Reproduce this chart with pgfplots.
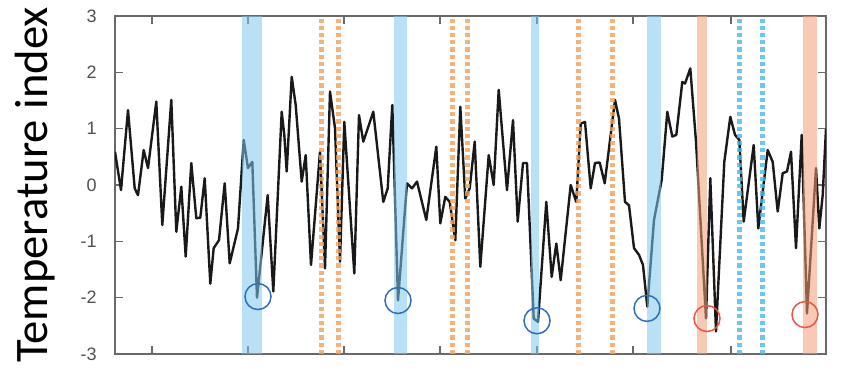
\documentclass[border=0pt]{standalone}
\usepackage{pgfplots}
\pgfplotsset{compat=1.18}
\usepackage{fontspec}
\setmainfont{Liberation Sans}
\newfontfamily\calib{Carlito}
\definecolor{axisgray}{RGB}{105,105,105}
\definecolor{labelgray}{RGB}{80,80,80}
\definecolor{linecol}{RGB}{25,25,25}
\definecolor{bandblue}{RGB}{128,200,237}
\definecolor{bandred}{RGB}{242,158,122}
\definecolor{dotorange}{RGB}{243,160,90}
\definecolor{dotblue}{RGB}{70,185,235}
\definecolor{circblue}{RGB}{45,110,195}
\definecolor{circred}{RGB}{235,85,65}
\begin{document}
\begin{tikzpicture}
\useasboundingbox (-57.5pt,-11.5pt) rectangle (373.5pt,177pt);
\begin{axis}[
  scale only axis, width=355.5pt, height=169pt,
  xmin=115, xmax=826, ymin=-3, ymax=3,
  xtick={152,248,344,440,537,633,731}, xticklabels={},
  ytick={-3,-2,-1,0,1,2,3}, yticklabels={-3,-2,-1,0,1,2,3},
  tick align=inside, major tick length=4pt,
  tick style={color=axisgray, line width=0.6pt},
  axis line style={color=axisgray, line width=0.6pt},
  yticklabel style={font=\fontsize{9}{10}\selectfont, text=labelgray, inner sep=0pt, xshift=-9pt},
  ylabel={Temperature index},
  ylabel style={font=\calib\fontsize{23.3}{26}\selectfont, at={(axis description cs:-0.0956,0.5)}, anchor=base, inner sep=0pt},
]
\addplot[color=linecol, line width=1.2pt, line join=round] coordinates {
(115,0.59) (121,-0.09) (128,1.33) (134.7,-0.06) (138,-0.18) (143.7,0.62) (148,0.30)
(156.3,1.48) (162.3,-0.71) (171.3,1.51) (176.3,-0.83) (181.3,-0.03) (185.7,-1.27)
(191.3,0.39) (196.3,-0.59) (200.3,-0.58) (204.7,0.12) (210.3,-1.75) (213.7,-1.12)
(219,-0.98) (224.7,0.03) (229.7,-1.39) (238,-0.77) (243.7,0.80) (248,0.30) (252.3,0.41)
(257,-2.0) (267.7,-0.18) (273.3,-1.89) (281.7,1.30) (284.3,0.89) (286.7,0.24)
(291.7,1.92) (295.7,1.42) (301.7,0.06) (305.7,0.53) (311,-1.42) (320,0.59) (325,-1.48)
(330,1.66) (335,1.01) (340,-1.36) (344.3,1.12) (354.3,-1.57) (359,1.24) (363.3,0.77)
(373.3,1.30) (383.3,-0.30) (387.7,-0.06) (392.3,1.42) (398,-2.05) (407,0.03)
(412,-0.06) (417,0.06) (426.3,-0.62) (436.3,0.68) (440.3,-0.68) (445.3,-0.21)
(449.7,-0.30) (455.3,-0.98) (460.3,1.39) (465.3,-0.24) (469.7,-0.06) (474.7,0.77)
(480.3,-1.45) (488.7,0.53) (493.7,0.0) (498.7,1.69) (507,-0.09) (513,1.15)
(517.7,-0.65) (523,0.39) (527,0.39) (533.7,-2.37) (538,-2.43) (546.3,-0.30)
(551.7,-1.63) (556.3,-1.04) (560.7,-1.69) (570.7,0.0) (574,-0.18) (576.3,-0.30)
(580.7,1.09) (585,1.12) (590.7,-0.06) (595,0.39) (599.7,0.40) (604.7,0.03) (609,0.65)
(615,1.51) (619,1.18) (625,-0.30) (629,-0.36) (634,-1.12) (639,-1.24) (643,-1.42)
(647.3,-2.16) (654,-0.62) (661.7,0.09) (667.3,1.30) (672.3,0.86) (676.3,0.89)
(682.3,1.83) (685,1.80) (690.3,2.07) (696,0.77) (706,-2.37) (710.3,0.12) (716,-2.60)
(724.3,0.41) (730.3,1.21) (735,0.89) (739.3,0.80) (743.7,-0.65) (753.7,0.71)
(758.3,-0.77) (767.7,0.62) (772.7,0.41) (777.7,-0.47) (782.7,0.21) (787,0.24)
(791,0.59) (796,-1.12) (801.7,0.89) (807,-2.28) (816,0.30) (819.3,-0.77) (822.7,-0.18)
(826,1.0)
};
% shaded bands
\addplot[color=bandblue, opacity=0.55, line width=10pt] coordinates {(252,-3) (252,3)};
\addplot[color=bandblue, opacity=0.55, line width=6.5pt] coordinates {(400.5,-3) (400.5,3)};
\addplot[color=bandblue, opacity=0.55, line width=4pt] coordinates {(535,-3) (535,3)};
\addplot[color=bandblue, opacity=0.55, line width=7pt] coordinates {(654,-3) (654,3)};
\addplot[color=bandred, opacity=0.55, line width=5pt] coordinates {(702,-3) (702,3)};
\addplot[color=bandred, opacity=0.55, line width=7pt] coordinates {(810,-3) (810,3)};
% dotted lines
\foreach \xx in {321.5,338,452.5,467,578.5,612} {
  \edef\temp{\noexpand\addplot[color=dotorange, opacity=0.8, line width=2.5pt, dash pattern=on 2.1pt off 1.5pt] coordinates {(\xx,-3) (\xx,3)};}
  \temp
}
\foreach \xx in {739,762.5} {
  \edef\temp{\noexpand\addplot[color=dotblue, opacity=0.8, line width=2.5pt, dash pattern=on 2.1pt off 1.5pt] coordinates {(\xx,-3) (\xx,3)};}
  \temp
}
% circles
\addplot[only marks, mark=o, mark size=6.5pt, mark options={line width=0.75pt, color=circblue}] coordinates {(258,-1.98) (398,-2.05) (537,-2.41) (647,-2.19)};
\addplot[only marks, mark=o, mark size=6.5pt, mark options={line width=0.75pt, color=circred}] coordinates {(707,-2.37) (805,-2.30)};
\end{axis}
\end{tikzpicture}
\end{document}
